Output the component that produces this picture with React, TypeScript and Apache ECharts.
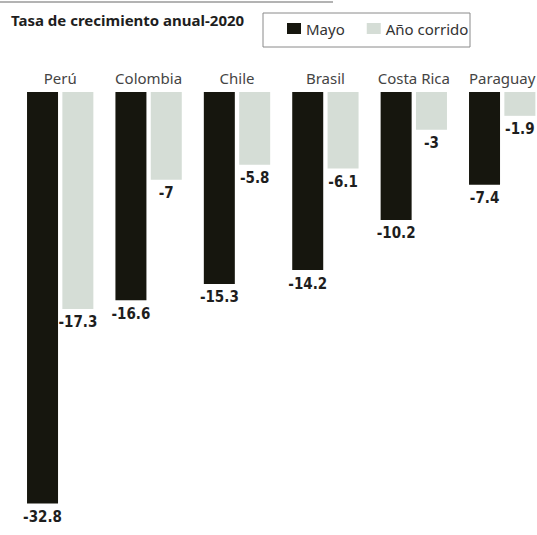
import React, { useEffect, useRef } from "react";
import * as echarts from "echarts";

const countries = ["Perú", "Colombia", "Chile", "Brasil", "Costa Rica", "Paraguay"];
const mayo = [-32.8, -16.6, -15.3, -14.2, -10.2, -7.4];
const anoCorrido = [-17.3, -7, -5.8, -6.1, -3, -1.9];

const labelFont = "'Liberation Sans Narrow', 'DejaVu Sans Condensed', 'Liberation Sans', sans-serif";
const textFont = "'Noto Sans', 'Open Sans', sans-serif";

export default function App() {
  const ref = useRef<HTMLDivElement>(null);
  useEffect(() => {
    document.body.style.margin = "0";
    document.body.style.overflow = "hidden";
    if (!ref.current) return;
    const chart = echarts.init(ref.current, undefined, { renderer: "svg" });
    const valueLabel = {
      show: true,
      position: "bottom" as const,
      distance: 6,
      color: "#1e1e1e",
      fontSize: 15,
      fontWeight: "bold" as const,
      fontFamily: labelFont,
      formatter: (p: any) => String(p.value),
    };
    chart.setOption({
      animation: false,
      backgroundColor: "#ffffff",
      graphic: [
        {
          type: "line",
          shape: { x1: 0, y1: 2, x2: 333, y2: 2 },
          style: { stroke: "#9a9a9a", lineWidth: 1.5 },
        },
        {
          type: "text",
          left: 11,
          top: 12,
          style: {
            text: "Tasa de crecimiento anual-2020",
            fontSize: 15,
            fontWeight: "bold",
            fontFamily: textFont,
            fill: "#1e1e1e",
          },
        },
        {
          type: "rect",
          shape: { x: 263, y: 13, width: 207, height: 34 },
          style: { fill: "none", stroke: "#8a8a8a", lineWidth: 1 },
        },
      ],
      legend: {
        left: 287,
        top: 21,
        itemWidth: 14,
        itemHeight: 11,
        itemGap: 22,
        icon: "rect",
        padding: 0,
        textStyle: { fontSize: 15, color: "#333", fontFamily: textFont },
        data: ["Mayo", "Año corrido"],
      },
      grid: { left: 16, right: 3.6, top: 92, bottom: 4, containLabel: false },
      xAxis: {
        type: "category",
        position: "top",
        data: countries,
        axisLine: { show: false },
        axisTick: { show: false },
        axisLabel: {
          color: "#444",
          fontSize: 15,
          margin: 7,
          fontFamily: textFont,
          interval: 0,
        },
      },
      yAxis: {
        type: "value",
        min: -35,
        max: 0,
        show: false,
        splitLine: { show: false },
      },
      series: [
        {
          name: "Mayo",
          type: "bar",
          data: mayo,
          barWidth: 31,
          barGap: "14%",
          itemStyle: { color: "#16160e" },
          label: valueLabel,
        },
        {
          name: "Año corrido",
          type: "bar",
          data: anoCorrido,
          barWidth: 31,
          itemStyle: { color: "#d5ddd6" },
          label: valueLabel,
        },
      ],
    });
    return () => chart.dispose();
  }, []);
  return (
    <div style={{ width: 537, height: 535, overflow: "hidden", position: "relative" }}>
      <div ref={ref} style={{ width: 550, height: 535 }} />
    </div>
  );
}
